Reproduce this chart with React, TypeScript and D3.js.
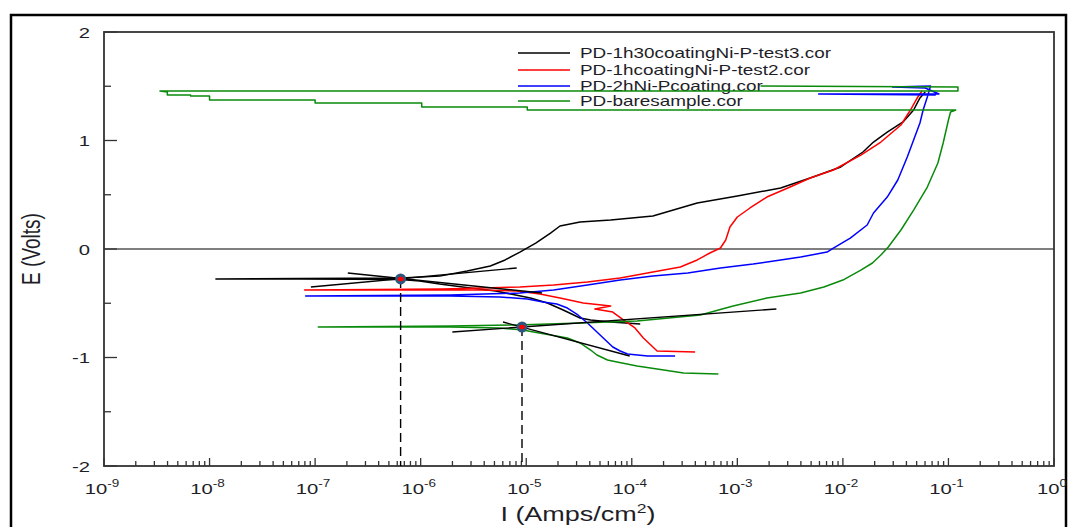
import { useEffect, useRef } from 'react';
import * as d3 from 'd3';

// each point: [log10 of I (Amps/cm2), E (Volts)]
type Pt = [number, number];

const seriesNames = [
  'PD-1h30coatingNi-P-test3.cor',
  'PD-1hcoatingNi-P-test2.cor',
  'PD-2hNi-Pcoating.cor',
  'PD-baresample.cor',
];
const seriesColors = ['#000000', '#ff0000', '#0000ff', '#0a8a0a'];

const curve1h30: Pt[] = [
  [-3.92, -0.691], [-4.20, -0.673], [-4.39, -0.654], [-4.49, -0.636], [-4.65, -0.562],
  [-4.80, -0.498], [-4.96, -0.452], [-5.10, -0.424], [-5.29, -0.387], [-5.53, -0.359],
  [-5.82, -0.323], [-6.01, -0.295], [-6.19, -0.281], [-7.14, -0.277], [-7.94, -0.276],
  [-7.14, -0.272], [-6.19, -0.267], [-5.82, -0.250], [-5.56, -0.203], [-5.34, -0.157],
  [-5.20, -0.101], [-5.06, -0.028], [-4.91, 0.055], [-4.77, 0.147], [-4.68, 0.212],
  [-4.49, 0.249], [-4.20, 0.267], [-3.80, 0.304], [-3.38, 0.424], [-3.00, 0.488],
  [-2.59, 0.562], [-2.31, 0.654], [-2.02, 0.756], [-1.81, 0.894], [-1.71, 0.986],
  [-1.58, 1.078], [-1.43, 1.171], [-1.33, 1.281], [-1.27, 1.392], [-1.22, 1.447],
];

const curve1h: Pt[] = [
  [-3.40, -0.949], [-3.76, -0.940], [-3.82, -0.885], [-3.89, -0.820], [-3.97, -0.728],
  [-4.08, -0.654], [-4.18, -0.581], [-4.35, -0.553], [-4.20, -0.525], [-4.46, -0.498],
  [-4.68, -0.452], [-4.87, -0.415], [-5.09, -0.387], [-5.41, -0.378], [-5.79, -0.378],
  [-7.10, -0.378], [-5.79, -0.369], [-5.06, -0.350], [-4.74, -0.332], [-4.42, -0.304],
  [-4.11, -0.267], [-3.80, -0.212], [-3.54, -0.166], [-3.38, -0.101], [-3.26, -0.037],
  [-3.16, 0.009], [-3.11, 0.083], [-3.07, 0.203], [-3.00, 0.295], [-2.88, 0.378],
  [-2.72, 0.479], [-2.50, 0.571], [-2.31, 0.654], [-2.09, 0.728], [-1.83, 0.866],
  [-1.64, 0.986], [-1.45, 1.143], [-1.36, 1.281], [-1.29, 1.401], [-1.25, 1.456],
];

const curve2h: Pt[] = [
  [-3.59, -0.986], [-3.85, -0.986], [-4.04, -0.968], [-4.11, -0.940], [-4.18, -0.903],
  [-4.23, -0.857], [-4.30, -0.793], [-4.37, -0.728], [-4.42, -0.682], [-4.51, -0.608],
  [-4.61, -0.544], [-4.71, -0.507], [-4.84, -0.488], [-4.99, -0.461], [-5.25, -0.442],
  [-5.72, -0.433], [-7.09, -0.433], [-5.72, -0.424], [-5.06, -0.406], [-4.74, -0.378],
  [-4.42, -0.332], [-4.11, -0.286], [-3.80, -0.249], [-3.47, -0.221], [-3.16, -0.175],
  [-2.85, -0.138], [-2.59, -0.101], [-2.40, -0.074], [-2.15, -0.028], [-2.09, 0.009],
  [-1.93, 0.101], [-1.77, 0.221], [-1.71, 0.332], [-1.58, 0.479], [-1.48, 0.636],
  [-1.39, 0.848], [-1.33, 1.005], [-1.27, 1.161], [-1.24, 1.281], [-1.20, 1.401],
  [-1.17, 1.502], [-1.53, 1.493], [-1.22, 1.484], [-1.09, 1.429], [-2.23, 1.429],
  [-1.12, 1.419],
];

const curveBare: Pt[] = [
  [-3.18, -1.152], [-3.51, -1.143], [-3.76, -1.106], [-3.95, -1.078], [-4.14, -1.041],
  [-4.23, -1.023], [-4.33, -0.977], [-4.39, -0.931], [-4.49, -0.866], [-4.61, -0.820],
  [-4.77, -0.793], [-4.93, -0.765], [-5.03, -0.747], [-5.25, -0.728], [-5.72, -0.719],
  [-6.97, -0.719], [-5.72, -0.710], [-5.09, -0.700], [-4.49, -0.682], [-3.95, -0.664],
  [-3.35, -0.608], [-3.04, -0.525], [-2.72, -0.452], [-2.40, -0.406], [-2.18, -0.350],
  [-2.00, -0.286], [-1.83, -0.194], [-1.72, -0.129], [-1.64, -0.055], [-1.57, 0.018],
  [-1.45, 0.175], [-1.33, 0.359], [-1.20, 0.571], [-1.10, 0.793], [-1.05, 0.977],
  [-1.00, 1.189], [-0.98, 1.263], [-0.93, 1.281], [-4.99, 1.281], [-4.99, 1.309],
  [-5.99, 1.309], [-5.99, 1.346], [-7.00, 1.346], [-7.00, 1.373], [-8.00, 1.373],
  [-8.00, 1.410], [-8.18, 1.410], [-8.18, 1.419], [-8.40, 1.419], [-8.40, 1.447],
  [-8.47, 1.456], [-0.91, 1.456], [-0.91, 1.493], [-2.78, 1.502],
];

// Tafel extrapolation lines and corrosion points
const tafelLines: [Pt, Pt][] = [
  [[-7.04, -0.350], [-5.09, -0.175]],
  [[-6.69, -0.221], [-4.85, -0.406]],
  [[-5.70, -0.765], [-2.63, -0.553]],
  [[-5.22, -0.673], [-4.02, -0.986]],
];
const corrPoints: Pt[] = [[-6.19, -0.276], [-5.04, -0.719]];

const yTicks = [-2, -1, 0, 1, 2];
const yMinorTicks = [-1.5, -0.5, 0.5, 1.5];
const xDecades = [-9, -8, -7, -6, -5, -4, -3, -2, -1, 0];

const FONT = 'Arial, "Liberation Sans", sans-serif';
const SX = 1.35; // the source picture is stretched sideways, text too

export default function App() {
  const ref = useRef<SVGSVGElement>(null);

  useEffect(() => {
    const svg = d3.select(ref.current);
    svg.selectAll('*').remove();

    const x = d3.scaleLog().domain([1e-9, 1]).range([104, 1054]);
    const y = d3.scaleLinear().domain([-2, 2]).range([466, 32]);
    const px = (d: Pt) => x(Math.pow(10, d[0]));
    const py = (d: Pt) => y(d[1]);

    const label = (tx: number, ty: number, size: number, anchor = 'start') =>
      svg.append('text').attr('transform', `translate(${tx},${ty}) scale(${SX},1)`)
        .attr('text-anchor', anchor)
        .style('font-family', FONT).style('font-size', `${size}px`).style('fill', '#1e1e28');

    // outer frame
    svg.append('rect').attr('x', 11).attr('y', 15).attr('width', 1055).attr('height', 530)
      .attr('fill', 'none').attr('stroke', '#000').attr('stroke-width', 2.5);

    // zero line
    svg.append('line').attr('x1', x(1e-9)).attr('x2', x(1)).attr('y1', y(0)).attr('y2', y(0))
      .attr('stroke', '#555').attr('stroke-width', 1.5);

    // y ticks
    yTicks.forEach(t => {
      svg.append('line').attr('x1', 104).attr('x2', 117).attr('y1', y(t)).attr('y2', y(t))
        .attr('stroke', '#333').attr('stroke-width', 1.3);
      label(90, y(t) + 5.5, 15, 'end').text(String(t));
    });
    yMinorTicks.forEach(t => {
      svg.append('line').attr('x1', 104).attr('x2', 111).attr('y1', y(t)).attr('y2', y(t))
        .attr('stroke', '#333').attr('stroke-width', 1.3);
    });

    // x ticks
    xDecades.forEach(k => {
      const v = Math.pow(10, k);
      svg.append('line').attr('x1', x(v)).attr('x2', x(v)).attr('y1', 466).attr('y2', 458)
        .attr('stroke', '#333').attr('stroke-width', 1.3);
      const t = label(x(v) - 2, 494, 15, 'middle');
      t.append('tspan').text('10');
      t.append('tspan').attr('dy', -7).style('font-size', '10px').text(k === 0 ? '0' : `-${-k}`);
      if (k < 0) {
        for (let m = 2; m <= 9; m++) {
          const mv = m * v;
          svg.append('line').attr('x1', x(mv)).attr('x2', x(mv)).attr('y1', 466).attr('y2', 461)
            .attr('stroke', '#333').attr('stroke-width', 1.3);
        }
      }
    });

    // plot frame
    svg.append('rect').attr('x', 104).attr('y', 32).attr('width', 950).attr('height', 434)
      .attr('fill', 'none').attr('stroke', '#333').attr('stroke-width', 1.8);

    // axis titles
    svg.append('text').attr('transform', `translate(40, ${y(0)}) scale(${SX},1) rotate(-90)`)
      .attr('text-anchor', 'middle').style('font-family', FONT).style('font-size', '19px')
      .style('fill', '#1e1e28').text('E (Volts)');
    const xt = label(578, 521, 20, 'middle');
    xt.append('tspan').text('I (Amps/cm');
    xt.append('tspan').attr('dy', -8).style('font-size', '13px').text('2');
    xt.append('tspan').attr('dy', 8).text(')');

    // legend
    const legendY = [53, 70, 86, 101];
    seriesNames.forEach((name, i) => {
      svg.append('line').attr('x1', 518).attr('x2', 570).attr('y1', legendY[i]).attr('y2', legendY[i])
        .attr('stroke', seriesColors[i]).attr('stroke-width', 1.5);
      label(580, legendY[i] + 5, 14).text(name);
    });

    // curves
    const line = d3.line<Pt>().x(px).y(py);
    [curve1h30, curve1h, curve2h, curveBare].forEach((c, i) => {
      svg.append('path').attr('d', line(c)).attr('fill', 'none')
        .attr('stroke', seriesColors[i]).attr('stroke-width', 1.5)
        .attr('stroke-linejoin', 'round');
    });

    // tafel lines
    tafelLines.forEach(l => {
      svg.append('path').attr('d', line(l)).attr('fill', 'none')
        .attr('stroke', '#000').attr('stroke-width', 1.4);
    });

    // dashed drops + corrosion points
    corrPoints.forEach(p => {
      svg.append('line').attr('x1', px(p)).attr('x2', px(p)).attr('y1', py(p)).attr('y2', 466)
        .attr('stroke', '#000').attr('stroke-width', 1.4).attr('stroke-dasharray', '9,5');
      svg.append('circle').attr('cx', px(p)).attr('cy', py(p)).attr('r', 5.5)
        .attr('fill', '#2b587c');
      svg.append('ellipse').attr('cx', px(p)).attr('cy', py(p)).attr('rx', 3).attr('ry', 2.2)
        .attr('fill', '#ff0000');
    });
  }, []);

  return (
    <svg ref={ref} width={1069} height={527}
      style={{ position: 'absolute', left: 0, top: 0, background: '#fff' }} />
  );
}
